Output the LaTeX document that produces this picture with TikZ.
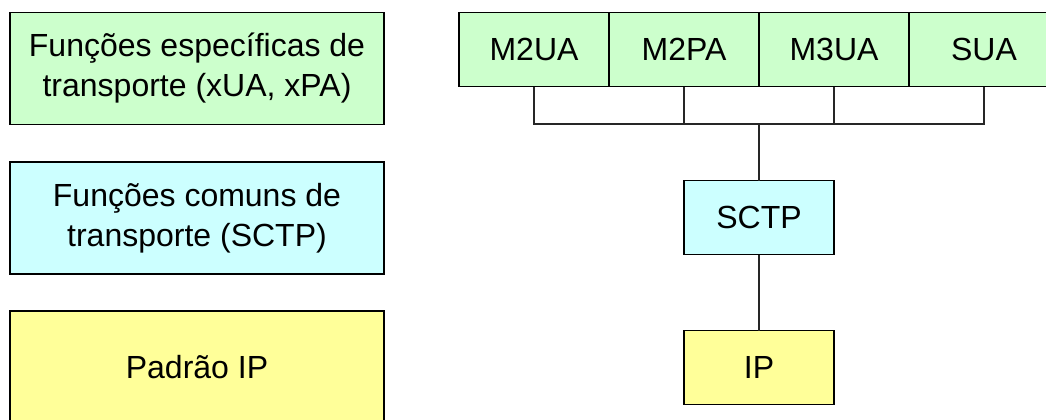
\documentclass[tikz,border=0pt]{standalone}
\usepackage{fontspec}
\setmainfont{Liberation Sans}
\usetikzlibrary{positioning}

\definecolor{verdeclaro}{RGB}{204,255,204}
\definecolor{cianoclaro}{RGB}{204,255,255}
\definecolor{amareloclaro}{RGB}{255,255,153}

\begin{document}
\begin{tikzpicture}[x=0.75pt, y=-0.75pt,
    camada/.style={draw, line width=1.4pt, align=center,
      font=\fontsize{24}{30}\selectfont},
    legenda/.style={camada, minimum width=280.5pt, minimum height=84pt},
    bloco/.style={camada, outer sep=0pt, minimum width=112.5pt,
      minimum height=55.5pt},
    liga/.style={line width=1pt, black!85}]
    \useasboundingbox (0,0) rectangle (1046,419);
    % ---- left column: what each layer does
    \node[legenda, fill=verdeclaro] (especificas) at (197,68.5)
      {Funções específicas de\\transporte (xUA, xPA)};
    \node[legenda, fill=cianoclaro] (comuns) at (197,218)
      {Funções comuns de\\transporte (SCTP)};
    \node[legenda, fill=amareloclaro] (padrao) at (197,367)
      {Padrão IP};
    % ---- right column: the protocol stack
    \node[bloco, fill=verdeclaro] (m2ua) at (534,49.5) {M2UA};
    \node[bloco, fill=verdeclaro, right=0pt of m2ua] (m2pa) {M2PA};
    \node[bloco, fill=verdeclaro, right=0pt of m2pa] (m3ua) {M3UA};
    \node[bloco, fill=verdeclaro, right=0pt of m3ua] (sua) {SUA};
    \node[bloco, fill=cianoclaro] (sctp) at (759,217.5) {SCTP};
    \node[bloco, fill=amareloclaro] (ip) at (759,367.5) {IP};
    % the bus joining the adaptation layers to SCTP
    \coordinate (barra) at (759,124);
    \draw[liga] (m2ua.south) |- (barra) -| (sua.south);
    \draw[liga] (m2pa.south) -- (m2pa.south |- barra);
    \draw[liga] (m3ua.south) -- (m3ua.south |- barra);
    \draw[liga] (barra) -- (sctp);
    \draw[liga] (sctp) -- (ip);
\end{tikzpicture}
\end{document}
